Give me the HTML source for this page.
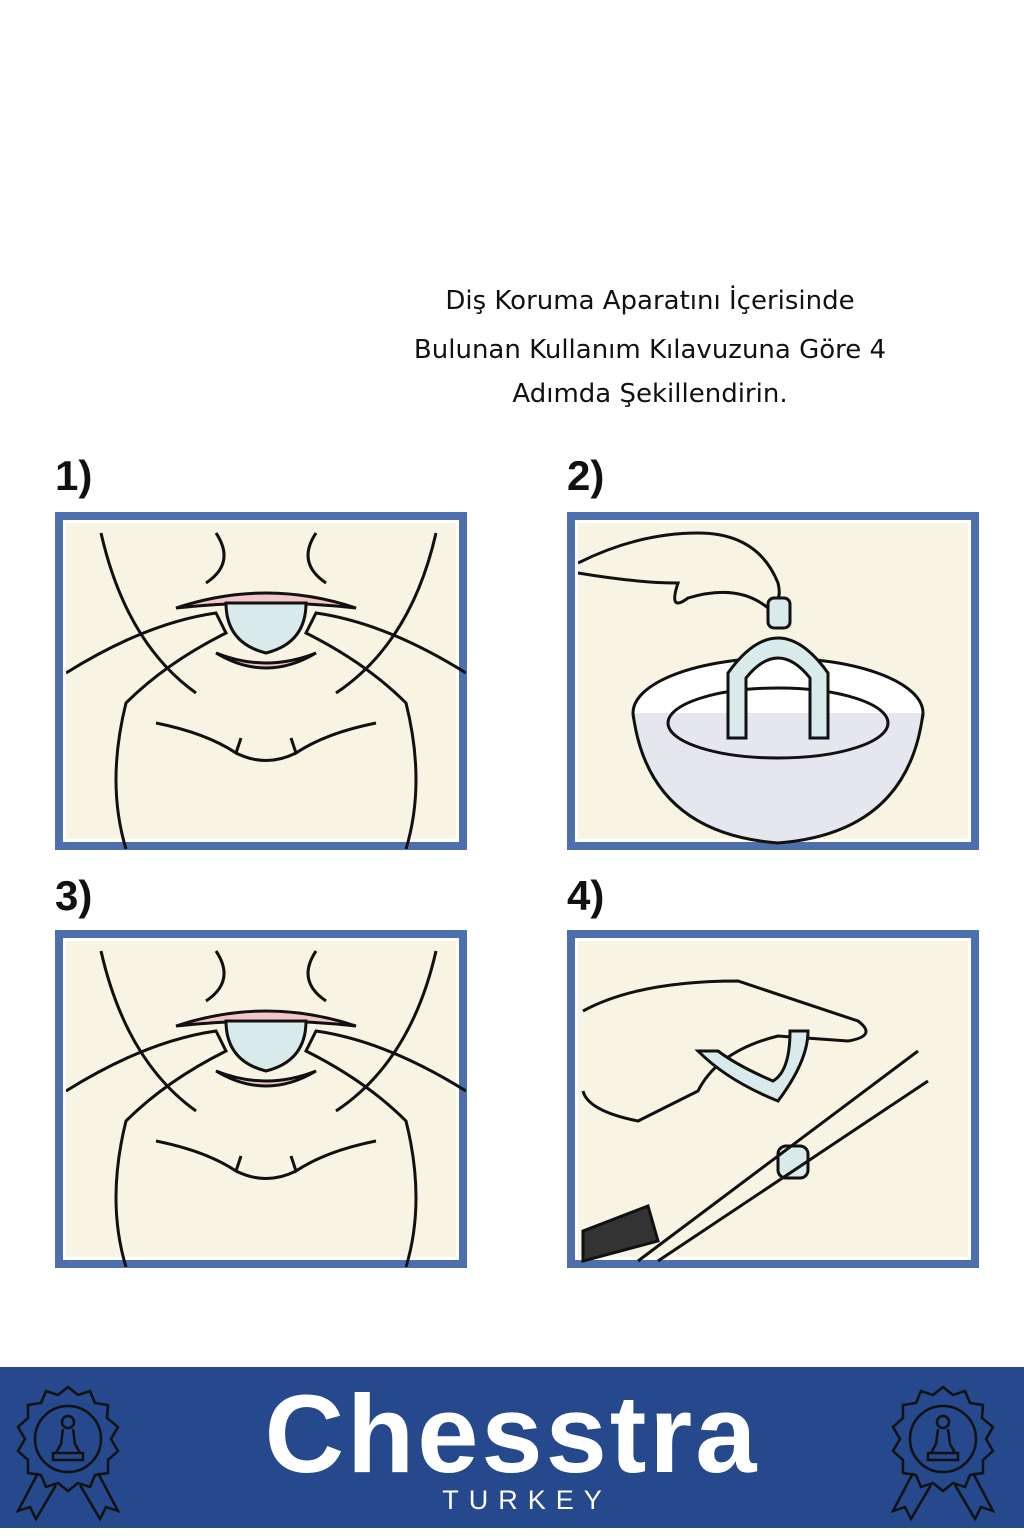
<!DOCTYPE html>
<html><head><meta charset="utf-8"><style>
body{margin:0;width:1024px;height:1536px;background:#fff;position:relative;overflow:hidden;font-family:"Liberation Sans",sans-serif}
.t{position:absolute;left:350px;width:600px;text-align:center;font-size:26px;color:#111;font-family:"DejaVu Sans",sans-serif}
.n{position:absolute;font-size:42px;font-weight:bold;color:#111}
.p{position:absolute;width:412px;height:338px;box-sizing:border-box;border:8px solid #4d6fae;background:#f8f4e4;box-shadow:inset 0 0 0 3px #fff}
.p svg{position:absolute;left:3px;top:3px}
.foot{position:absolute;left:0;top:1367px;width:1024px;height:161px;background:#25498c}
</style></head><body>
<div class="t" style="top:286px">Diş Koruma Aparatını İçerisinde</div>
<div class="t" style="top:335px">Bulunan Kullanım Kılavuzuna Göre 4</div>
<div class="t" style="top:379px">Adımda Şekillendirin.</div>
<div class="n" style="left:55px;top:452px">1)</div>
<div class="n" style="left:567px;top:452px">2)</div>
<div class="n" style="left:55px;top:872px">3)</div>
<div class="n" style="left:567px;top:872px">4)</div>

<div class="p" style="left:55px;top:512px"><svg width="400" height="326" fill="none" stroke="#111" stroke-width="3">
<path d="M35 10 Q60 120 130 170"/><path d="M370 10 Q345 120 270 170"/>
<path d="M150 10 Q170 40 140 60 M250 10 Q230 40 260 60"/>
<path d="M110 85 Q200 55 290 85 Q200 75 110 85Z" fill="#f2c7c9"/>
<path d="M160 80 L240 80 Q240 120 200 130 Q160 120 160 80Z" fill="#d8eaea"/>
<path d="M150 130 Q200 160 250 130 Q200 150 150 130Z" fill="#f2c7c9"/>
<path d="M0 150 Q80 100 150 90 L160 110 Q100 140 60 180 Q40 260 60 326"/>
<path d="M400 150 Q320 100 250 90 L240 110 Q300 140 340 180 Q360 260 340 326"/>
<path d="M90 200 Q140 210 170 230 L175 215 M310 200 Q260 210 230 230 L225 215"/>
<path d="M170 230 Q200 245 230 230"/>
</svg></div>

<div class="p" style="left:567px;top:512px"><svg width="400" height="326" fill="none" stroke="#111" stroke-width="3">
<path d="M0 40 Q60 10 120 10 Q180 10 200 60 Q205 80 190 85 Q160 60 110 75 Q90 90 100 60 Q60 60 0 50"/>
<ellipse cx="200" cy="190" rx="145" ry="55" fill="#fff"/>
<path d="M55 190 Q70 310 200 320 Q330 310 345 190" fill="#e6e6ee"/>
<ellipse cx="200" cy="200" rx="110" ry="35"/>
<path d="M150 215 L150 150 Q200 80 250 150 L250 215 L232 215 L232 155 Q200 115 168 155 L168 215Z" fill="#d8eaea"/>
<rect x="190" y="75" width="22" height="30" rx="6" fill="#d8eaea"/>
</svg></div>

<div class="p" style="left:55px;top:930px"><svg width="400" height="326" fill="none" stroke="#111" stroke-width="3">
<path d="M35 10 Q60 120 130 170"/><path d="M370 10 Q345 120 270 170"/>
<path d="M150 10 Q170 40 140 60 M250 10 Q230 40 260 60"/>
<path d="M110 85 Q200 55 290 85 Q200 75 110 85Z" fill="#f2c7c9"/>
<path d="M160 80 L240 80 Q240 120 200 130 Q160 120 160 80Z" fill="#d8eaea"/>
<path d="M150 130 Q200 160 250 130 Q200 150 150 130Z" fill="#f2c7c9"/>
<path d="M0 150 Q80 100 150 90 L160 110 Q100 140 60 180 Q40 260 60 326"/>
<path d="M400 150 Q320 100 250 90 L240 110 Q300 140 340 180 Q360 260 340 326"/>
<path d="M90 200 Q140 210 170 230 L175 215 M310 200 Q260 210 230 230 L225 215"/>
<path d="M170 230 Q200 245 230 230"/>
</svg></div>

<div class="p" style="left:567px;top:930px"><svg width="400" height="326" fill="none" stroke="#111" stroke-width="3">
<path d="M5 70 Q60 40 160 40 L280 80 Q300 95 270 100 L200 95 Q140 110 120 150 L60 180 Q10 170 5 150"/>
<path d="M120 110 Q150 140 200 160 Q230 120 230 90 L212 90 Q212 130 195 140 Q160 125 140 110Z" fill="#d8eaea"/>
<rect x="200" y="205" width="30" height="32" rx="8" fill="#d8eaea"/>
<path d="M60 320 L340 110 M80 320 L350 140"/>
<path d="M5 290 L70 265 L80 300 L5 320Z" fill="#333"/>
</svg></div>

<div class="foot">
<svg width="1024" height="161" style="position:absolute;left:0;top:0" fill="none" stroke="#111" stroke-width="2.5">
<g transform="translate(68,72)"><polygon points="0,-52 10,-44 22,-48 27,-36 40,-34 39,-21 50,-12 43,0 50,12 40,21 40,34 27,36 22,48 10,44 0,52 -10,44 -22,48 -27,36 -40,34 -40,21 -50,12 -43,0 -50,-12 -40,-21 -40,-34 -27,-36 -22,-48 -10,-44"/><circle r="33"/><circle cy="-17" r="6"/><path d="M-5 -10 L-7 5 L-12 14 L12 14 L7 5 L5 -10 M-15 14 h30 v7 h-30z"/><path d="M-30 34 L-50 72 L-38 68 L-32 80 L-12 46 M30 34 L50 72 L38 68 L32 80 L12 46"/></g>
<g transform="translate(943,72)"><polygon points="0,-52 10,-44 22,-48 27,-36 40,-34 39,-21 50,-12 43,0 50,12 40,21 40,34 27,36 22,48 10,44 0,52 -10,44 -22,48 -27,36 -40,34 -40,21 -50,12 -43,0 -50,-12 -40,-21 -40,-34 -27,-36 -22,-48 -10,-44"/><circle r="33"/><circle cy="-17" r="6"/><path d="M-5 -10 L-7 5 L-12 14 L12 14 L7 5 L5 -10 M-15 14 h30 v7 h-30z"/><path d="M-30 34 L-50 72 L-38 68 L-32 80 L-12 46 M30 34 L50 72 L38 68 L32 80 L12 46"/></g>
</svg>
<div style="position:absolute;left:0;width:1024px;text-align:center;top:8px;font-size:110px;font-weight:bold;color:#fff;letter-spacing:3px;line-height:120px">Chesstra</div>
<div style="position:absolute;left:0;width:1054px;text-align:center;top:118px;font-size:27px;color:#fff;letter-spacing:10px">TURKEY</div>
</div>
</body></html>
